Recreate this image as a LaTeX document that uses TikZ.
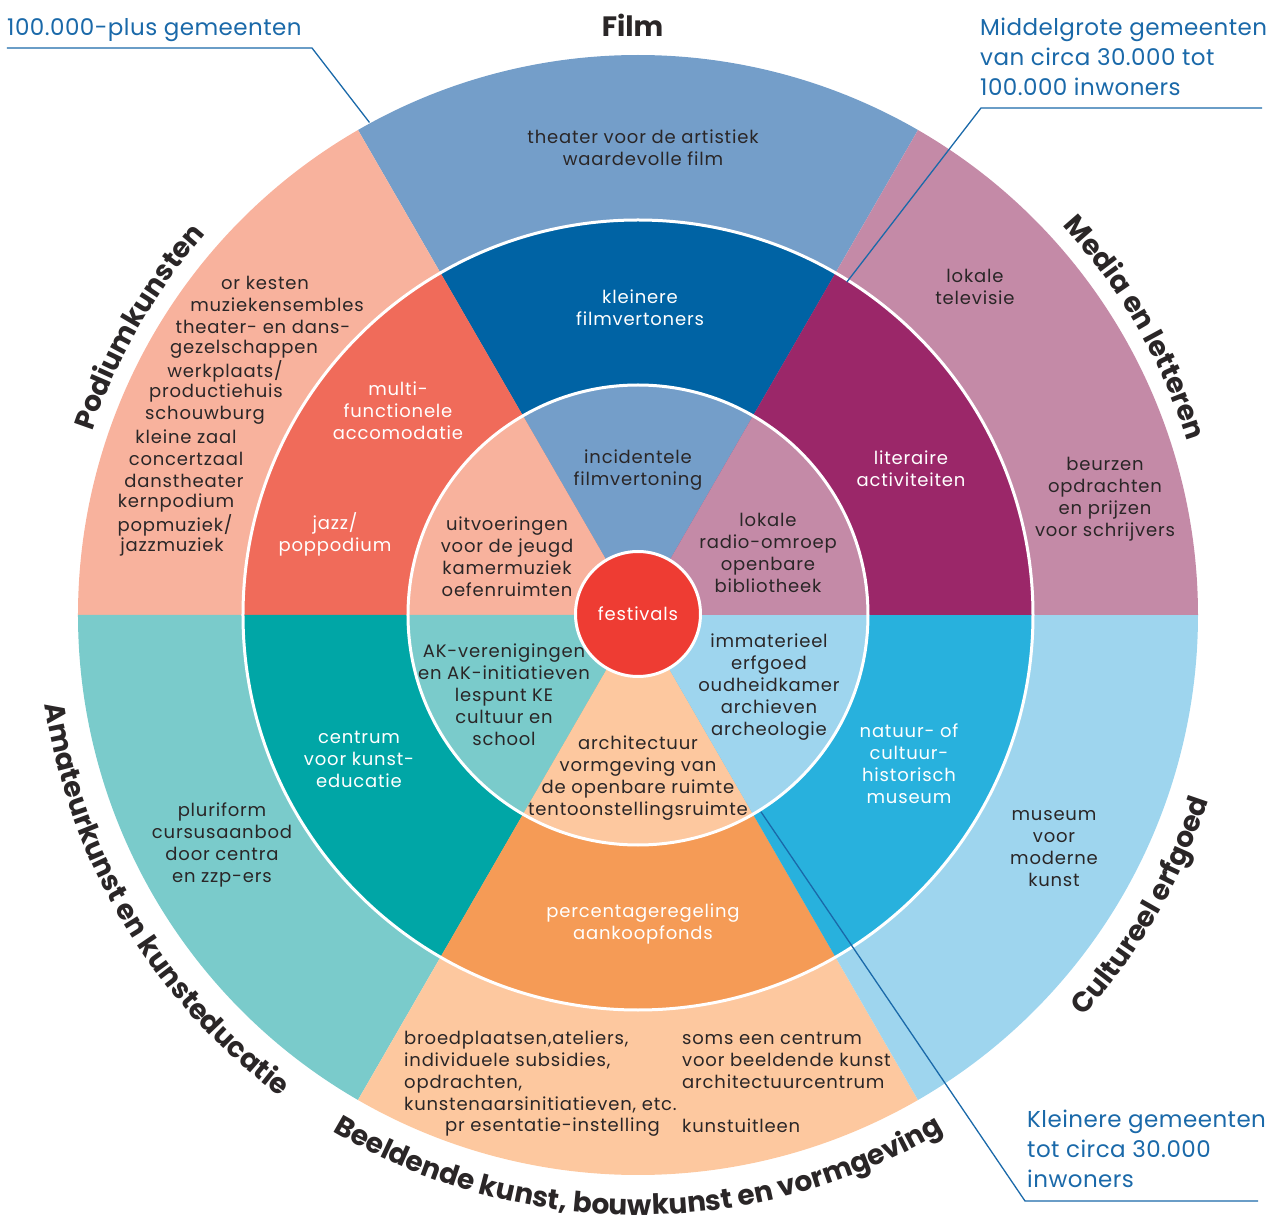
\documentclass[tikz,border=0pt]{standalone}
\usepackage{fontspec}
\setmainfont{Poppins}
\newfontfamily\bodyfont{Poppins}[LetterSpace=4.5]
\newfontfamily\lblfont{Poppins}[LetterSpace=2]
\usetikzlibrary{decorations.text}
\definecolor{filmL}{HTML}{749EC9}
\definecolor{filmD}{HTML}{0063A4}
\definecolor{podL}{HTML}{F8B29D}
\definecolor{podD}{HTML}{F06B5A}
\definecolor{meL}{HTML}{C48AA7}
\definecolor{meD}{HTML}{9B2769}
\definecolor{amL}{HTML}{7ACBCB}
\definecolor{amD}{HTML}{00A6A6}
\definecolor{bkL}{HTML}{FDC89F}
\definecolor{bkD}{HTML}{F59B56}
\definecolor{ceL}{HTML}{9ED5EE}
\definecolor{ceD}{HTML}{28B1DD}
\definecolor{fest}{HTML}{EE3C33}
\definecolor{lblue}{HTML}{1A69A9}
\definecolor{txt}{HTML}{2A2627}
\newcommand{\ttlfont}{\fontsize{28}{34}\selectfont\bfseries}
\tikzset{
  body/.style={font=\bodyfont\fontsize{18}{22}\selectfont, text=txt, align=center, inner sep=0pt},
  wbody/.style={body, text=white},
  lbl/.style={font=\lblfont\fontsize{23}{30}\selectfont, text=lblue, align=left, inner sep=0pt},
  leader/.style={draw=lblue, line width=1.3pt},
  ring/.style={draw=white, line width=3pt},
  ttl/.style={decorate, decoration={text along path, text align=center, text color=txt}}
}
\begin{document}
\begin{tikzpicture}[x=1pt,y=1pt]
\useasboundingbox (-638,-608) rectangle (631,615);
% outer ring
\foreach \a/\c in {60/filmL,120/podL,180/amL,240/bkL,300/ceL,0/meL}
  \fill[\c] (0,0) -- (\a:560pt) arc[start angle=\a, delta angle=60, radius=560pt] -- cycle;
% middle ring
\foreach \a/\c in {60/filmD,120/podD,180/amD,240/bkD,300/ceD,0/meD}
  \fill[\c] (0,0) -- (\a:395pt) arc[start angle=\a, delta angle=60, radius=395pt] -- cycle;
% inner ring
\foreach \a/\c in {60/filmL,120/podL,180/amL,240/bkL,300/ceL,0/meL}
  \fill[\c] (0,0) -- (\a:230pt) arc[start angle=\a, delta angle=60, radius=230pt] -- cycle;
\draw[ring] (0,0) circle[radius=395pt];
\draw[ring] (0,0) circle[radius=230pt];
\node[circle, fill=fest, draw=white, line width=3pt, minimum size=125pt, inner sep=0pt,
      font=\bodyfont\fontsize{18}{22}\selectfont, text=white] (fest) at (0,1) {festivals};

% outer ring texts
\node[body] (t1) at (5,467) {theater voor de artistiek\\waardevolle film};
\node[body] (p1) at (-373,332) {or kesten};
\node[body] (p2) at (-361,310) {muziekensembles};
\node[body] (p3) at (-375,288) {theater- en dans-};
\node[body] (p4) at (-394,266) {gezelschappen};
\node[body] (p5) at (-413,244) {werkplaats/};
\node[body] (p6) at (-422,222) {productiehuis};
\node[body] (p7) at (-433,200) {schouwburg};
\node[body] (p8) at (-452,178) {kleine zaal};
\node[body] (p9) at (-452,156) {concertzaal};
\node[body] (p10) at (-454,134) {danstheater};
\node[body] (p11) at (-462,112) {kernpodium};
\node[body] (p12) at (-463,90) {popmuziek/};
\node[body] (p13) at (-466,68) {jazzmuziek};
\node[body] (m1) at (337,328) {lokale\\televisie};
\node[body] (m2) at (467,116) {beurzen\\opdrachten\\en prijzen\\voor schrijvers};
\node[body] (a1) at (-416,-230) {pluriform\\cursusaanbod\\door centra\\en zzp-ers};
\node[body] (c1) at (416,-234) {museum\\voor\\moderne\\kunst};
\node[body, align=left, anchor=west] (b1) at (-234,-457) {broedplaatsen,ateliers,\\individuele subsidies,\\opdrachten,\\kunstenaarsinitiatieven, etc.};
\node[body, anchor=east] (b2) at (22,-512) {pr esentatie-instelling};
\node[body, align=left, anchor=west] (b3) at (44,-445) {soms een centrum\\voor beeldende kunst\\architectuurcentrum};
\node[body, anchor=west] (b4) at (44,-511) {kunstuitleen};

% middle ring texts
\node[wbody] (fm) at (2,307) {kleinere\\filmvertoners};
\node[wbody] (pm1) at (-240,204) {multi-\\functionele\\accomodatie};
\node[wbody] (pm2) at (-303,81) {jazz/\\poppodium};
\node[wbody] (mm) at (273,146) {literaire\\activiteiten};
\node[wbody] (am) at (-279,-144) {centrum\\voor kunst-\\educatie};
\node[wbody] (bm) at (5,-309) {percentageregeling\\aankoopfonds};
\node[wbody] (cm) at (271,-149) {natuur- of\\cultuur-\\historisch\\museum};

% inner ring texts
\node[body] (fi) at (0,145) {incidentele\\filmvertoning};
\node[body] (pi) at (-131,58) {uitvoeringen\\voor de jeugd\\kamermuziek\\oefenruimten};
\node[body] (mi) at (130,62) {lokale\\radio-omroep\\openbare\\bibliotheek};
\node[body] (ai) at (-134,-80) {AK-verenigingen\\en AK-initiatieven\\lespunt KE\\cultuur en\\school};
\node[body] (bi) at (0,-163) {architectuur\\vormgeving van\\de openbare ruimte\\tentoonstellingsruimte};
\node[body] (ci) at (131,-72) {immaterieel\\erfgoed\\oudheidkamer\\archieven\\archeologie};

% titles
\node[font=\ttlfont, text=txt, inner sep=0pt] (film) at (-5.5,589.5) {Film};
\path[ttl, decoration={text={|\ttlfont|Podiumkunsten}}] (178:576pt) arc[start angle=178, end angle=122, radius=576pt];
\path[ttl, decoration={text={|\ttlfont|Media en letteren}}] (58:576pt) arc[start angle=58, end angle=2, radius=576pt];
\path[ttl, decoration={text={|\ttlfont|Amateurkunst en kunsteducatie}}] (178:600pt) arc[start angle=178, end angle=244, radius=600pt];
\path[ttl, decoration={text={|\ttlfont|Beeldende kunst, bouwkunst en vormgeving}}] (232:600pt) arc[start angle=232, end angle=308, radius=600pt];
\path[ttl, decoration={text={|\ttlfont|Cultureel erfgoed}}] (302:600pt) arc[start angle=302, end angle=358, radius=600pt];

% leader labels
\node[lbl, anchor=base west] (L1) at (-631,579) {100.000-plus gemeenten};
\node[lbl, anchor=north west] (L2) at (342,597) {Middelgrote gemeenten\\van circa 30.000 tot\\100.000 inwoners};
\node[lbl, anchor=north west] (L3) at (389,-495) {Kleinere gemeenten\\tot circa 30.000\\inwoners};
\coordinate (u1a) at (-631,567);
\coordinate (u1b) at (-326,567);
\coordinate (u1c) at (118.6:561pt);
\coordinate (u2a) at (624,507);
\coordinate (u2b) at (343,507);
\coordinate (u2c) at (57.9:393pt);
\coordinate (u3a) at (620,-586);
\coordinate (u3b) at (387,-586);
\coordinate (u3c) at (302:232pt);
\draw[leader] (u1a) -- (u1b) -- (u1c);
\draw[leader] (u2a) -- (u2b) -- (u2c);
\draw[leader] (u3c) -- (u3b) -- (u3a);
\end{tikzpicture}
\end{document}
